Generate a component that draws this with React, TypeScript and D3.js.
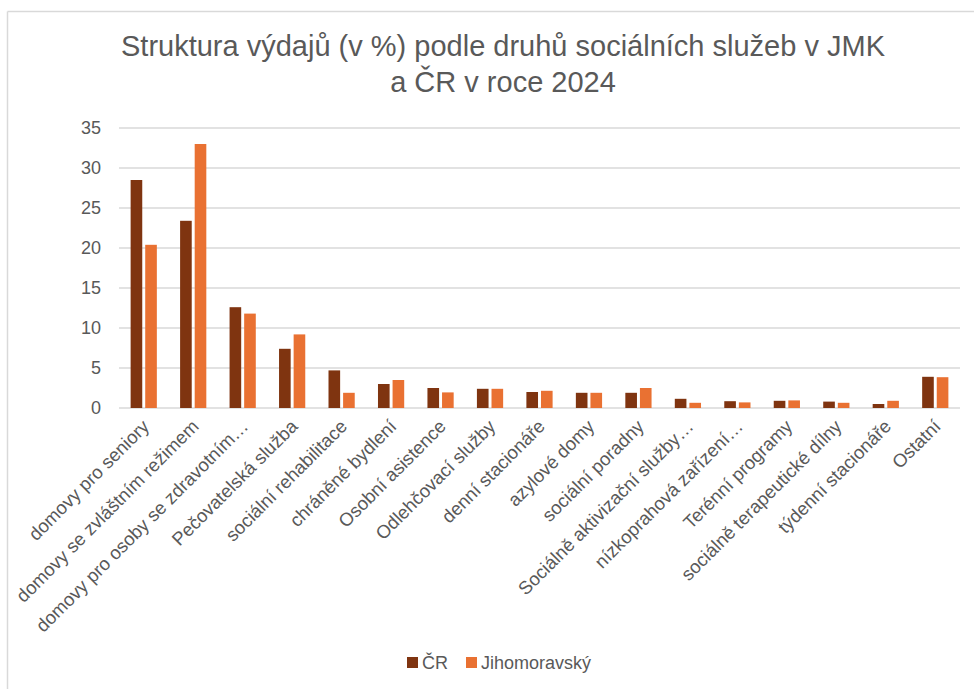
import React from "react";
import * as d3 from "d3";

const categories = [
  "domovy pro seniory",
  "domovy se zvláštním režimem",
  "domovy pro osoby se zdravotním…",
  "Pečovatelská služba",
  "sociální rehabilitace",
  "chráněné bydlení",
  "Osobní asistence",
  "Odlehčovací služby",
  "denní stacionáře",
  "azylové domy",
  "sociální poradny",
  "Sociálně aktivizační služby…",
  "nízkoprahová zařízení…",
  "Terénní programy",
  "sociálně terapeutické dílny",
  "týdenní stacionáře",
  "Ostatní",
];
const seriesCR = [28.5, 23.4, 12.6, 7.4, 4.7, 3.0, 2.5, 2.4, 2.0, 1.9, 1.9, 1.15, 0.85, 0.9, 0.8, 0.5, 3.9];
const seriesJMK = [20.4, 33.0, 11.8, 9.2, 1.9, 3.5, 1.95, 2.4, 2.15, 1.9, 2.5, 0.65, 0.7, 0.95, 0.65, 0.9, 3.85];
const seriesNames = ["ČR", "Jihomoravský"];
const yTicks = [0, 5, 10, 15, 20, 25, 30, 35];
const titleLines = ["Struktura výdajů (v %) podle druhů sociálních služeb v JMK", "a ČR v roce 2024"];

const COLORS = ["#7F3410", "#E97132"];
const TEXT = "#595959";
const FONT = "'Liberation Sans', Arial, Helvetica, sans-serif";

export default function App() {
  const W = 974, H = 689;
  const x = d3.scaleBand<string>().domain(categories).range([119, 960]);
  const y = d3.scaleLinear().domain([0, 35]).range([408, 128]);
  const bw = x.bandwidth() * 0.235;
  const gap = x.bandwidth() * 0.06;
  const series = [seriesCR, seriesJMK];

  return (
    <svg width={W} height={H} style={{ position: "absolute", left: 0, top: 0, background: "#fff" }} fontFamily={FONT}>
      <rect x={0} y={0} width={W} height={H} fill="#fff" />
      <line x1={7.5} x2={W} y1={11.5} y2={11.5} stroke="#d9d9d9" strokeWidth={1.5} />
      <line x1={7.5} x2={7.5} y1={11.5} y2={H} stroke="#d9d9d9" strokeWidth={1.5} />
      {titleLines.map((t, i) => (
        <text key={t} x={503} y={56 + i * 36} textAnchor="middle" fontSize={29} fill={TEXT}>
          {t}
        </text>
      ))}
      {yTicks.map((t) => (
        <g key={t}>
          <line x1={119} x2={960} y1={y(t)} y2={y(t)} stroke="#d9d9d9" strokeWidth={1.3} />
          <text x={101} y={y(t)} dy="0.35em" textAnchor="end" fontSize={18} fill={TEXT}>
            {t}
          </text>
        </g>
      ))}
      {series.map((s, si) =>
        s.map((v, i) => {
          const cx = (x(categories[i]) as number) + x.bandwidth() / 2;
          const bx = si === 0 ? cx - gap / 2 - bw : cx + gap / 2;
          return (
            <rect key={si + "-" + i} x={bx} y={y(v)} width={bw} height={y(0) - y(v)} fill={COLORS[si]} />
          );
        })
      )}
      {categories.map((c) => {
        const cx = (x(c) as number) + x.bandwidth() / 2;
        return (
          <text
            key={c}
            transform={`translate(${cx + 2},${423}) rotate(-45)`}
            textAnchor="end"
            dy="0.35em"
            fontSize={18.5}
            fill={TEXT}
          >
            {c}
          </text>
        );
      })}
      {seriesNames.map((n, i) => {
        const lx = i === 0 ? 407 : 466;
        return (
          <g key={n}>
            <rect x={lx} y={657} width={11} height={11} fill={COLORS[i]} />
            <text x={lx + 15} y={669} fontSize={18} fill={TEXT}>
              {n}
            </text>
          </g>
        );
      })}
    </svg>
  );
}
